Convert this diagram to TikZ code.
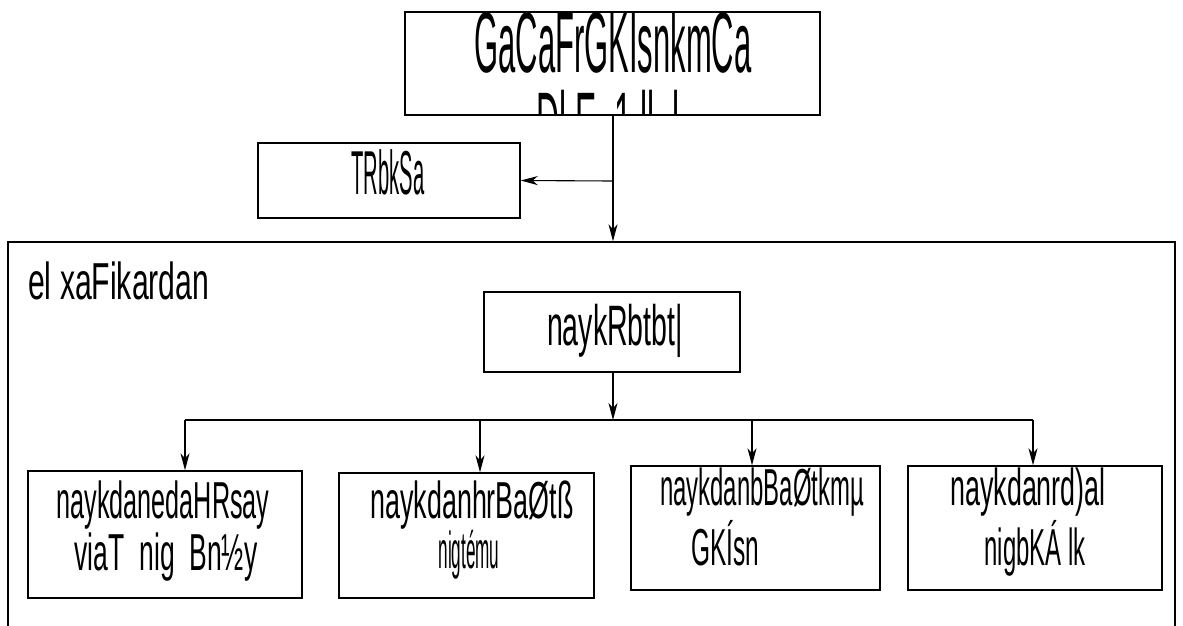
\documentclass[tikz,border=0pt]{standalone}
\usepackage{graphicx}
\usepackage{fontspec}
\setmainfont{Liberation Sans}
\usetikzlibrary{arrows.meta,shadows}
\newcommand\nw[2]{\scalebox{#1}[1]{#2}}
\begin{document}
\begin{tikzpicture}[x=1pt,y=-1pt,
			box/.style = {draw, line width=1.4pt, fill=white, inner sep=0pt,
				drop shadow={shadow xshift=0.8pt,shadow yshift=-1.2pt,fill=black!65,opacity=1}},
			arr/.style = {-{Stealth[length=17pt,width=9pt,inset=5pt]}, line width=1.1pt},
			txt/.style = {anchor=base, inner sep=0pt}]
			
			\clip (0,0) rectangle (1183,625);
			
			% big frame, open at the bottom
			\node[draw, line width=1.4pt, minimum width=1167pt, minimum height=420pt] (frame) at (591.5,452) {};
			\node[txt, anchor=base west] (frametxt) at (28,299) {\fontsize{52}{58}\selectfont\nw{0.58}{el xaFikardan}};
			
			% boxes
			\node[box, minimum width=415pt, minimum height=103pt] (top) at (612.5,63.5) {};
			\node[box, minimum width=262pt, minimum height=75pt] (sal) at (389,180.5) {};
			\node[box, minimum width=256pt, minimum height=80pt] (mid) at (612,332) {};
			\node[box, minimum width=274pt, minimum height=127pt] (b1) at (165,534.5) {};
			\node[box, minimum width=255pt, minimum height=125pt] (b2) at (466.5,535.5) {};
			\node[box, minimum width=249pt, minimum height=124pt] (b3) at (755.5,528) {};
			\node[box, minimum width=254pt, minimum height=124pt] (b4) at (1035,528) {};
			
			% texts
			\begin{scope}
				\clip ([shift={(1.5pt,-1.5pt)}]top.north west) rectangle ([shift={(-1.5pt,1.5pt)}]top.south east);
				\node[txt] (topa) at (613,72) {\fontsize{86}{92}\selectfont\nw{0.36}{GaCaFrGKÍsnkmCa}};
				\node[txt] (topb) at (608,152) {\fontsize{86}{92}\selectfont\nw{0.37}{Dl E \ 1 ll \ l}};
			\end{scope}
			\node[txt] (salt) at (388,194) {\fontsize{62}{68}\selectfont\nw{0.325}{TRbkSa}};
			\node[txt] (midt) at (615,345) {\fontsize{57}{62}\selectfont\nw{0.5}{naykRbtbt|}};
			\node[txt] (b1a) at (163,518) {\fontsize{52}{58}\selectfont\nw{0.485}{naykdanedaHRsay}};
			\node[txt] (b1b) at (166,570) {\fontsize{52}{58}\selectfont\nw{0.51}{viaT \ nig \ Bn½y}};
			\node[txt] (b2a) at (472,518) {\fontsize{52}{58}\selectfont\nw{0.517}{naykdanhrBaØtß}};
			\node[txt] (b2b) at (469,568) {\fontsize{52}{58}\selectfont\nw{0.33}{nigtému}};
			\node[txt] (b3a) at (762,505) {\fontsize{52}{58}\selectfont\nw{0.46}{naykdanbBaØtkmµ}};
			\node[txt] (b3b) at (725,565) {\fontsize{52}{58}\selectfont\nw{0.47}{GKÍsn}};
			\node[txt] (b4a) at (1028,505) {\fontsize{52}{58}\selectfont\nw{0.517}{naykdanrd)al}};
			\node[txt] (b4b) at (1035,565) {\fontsize{52}{58}\selectfont\nw{0.46}{nigbKÁ lk}};
			
			% connectors
			\coordinate (fork) at (613,181);
			\coordinate (busl) at (185,420);
			\coordinate (busr) at (1033,420);
			\coordinate (d1) at (185,420);
			\coordinate (d2) at (480,420);
			\coordinate (d3) at (752,420);
			\coordinate (d4) at (1033,420);
			
			\draw[arr] (top.south -| fork) -- (frame.north -| fork);
			\draw[arr] (fork) -- (sal.east);
			\draw[line width=1.1pt] (busl) -- (busr);
			\draw[arr] (mid.south -| fork) -- (d2 -| fork);
			\draw[arr] (d1) -- (d1 |- b1.north);
			\draw[arr] (d2) -- (d2 |- b2.north);
			\draw[arr] (d3) -- (d3 |- b3.north);
			\draw[arr] (d4) -- (d4 |- b4.north);
			
			\end{tikzpicture}
\end{document}
